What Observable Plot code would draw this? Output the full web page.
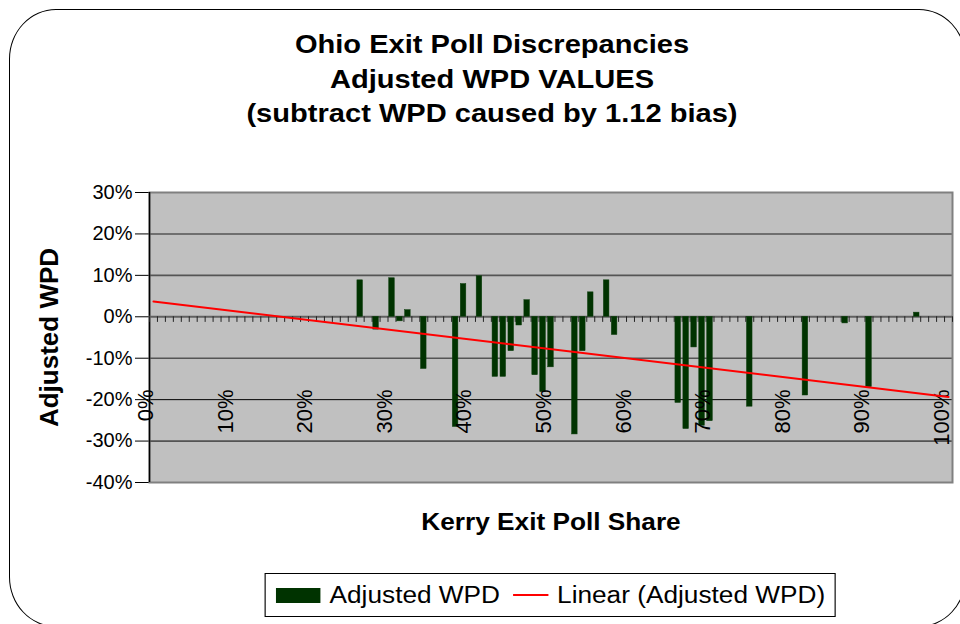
<!DOCTYPE html>
<html>
<head>
<meta charset="utf-8">
<script src="https://cdn.jsdelivr.net/npm/d3@7"></script>
<script src="https://cdn.jsdelivr.net/npm/@observablehq/plot@0.6"></script>
<style>
  html, body { margin: 0; padding: 0; background: #fff; }
  body { width: 960px; height: 624px; overflow: hidden; position: relative; font-family: "Liberation Sans", Arial, sans-serif; }
  #border { position: absolute; left: 9px; top: 9px; width: 957px; height: 618px; border: 1.5px solid #000; border-radius: 47px / 50px; box-sizing: border-box; }
  #title { position: absolute; left: 24px; top: 27px; width: 936px; text-align: center; font-weight: bold; font-size: 25.5px; line-height: 34.5px; color: #000; transform: scaleX(1.14); transform-origin: 468px 0; }
  #chart { position: absolute; left: 0; top: 0; }
  #xtitle { position: absolute; left: 551px; top: 511px; font-weight: bold; font-size: 23px; line-height: 23px; white-space: nowrap; transform: translateX(-50%) scaleX(1.14); }
  #legend { position: absolute; left: 550px; top: 573px; height: 44px; box-sizing: border-box; border: 1px solid #000; background: #fff; display: flex; align-items: center; padding: 0 8px 0 9px; white-space: nowrap; transform: translateX(-50%) scaleX(1.14); font-size: 23px; }
  #legend .sw { width: 39px; height: 15px; background: #003300; margin-right: 8px; }
  #legend .ln { width: 31px; height: 2px; background: #ff0000; margin: 0 8px 0 11px; }
</style>
</head>
<body>
<div id="border"></div>
<div id="chart"></div>
<div id="title">Ohio Exit Poll Discrepancies<br>Adjusted WPD VALUES<br>(subtract WPD caused by 1.12 bias)</div>
<div id="xtitle">Kerry Exit Poll Share</div>
<div id="legend"><div class="sw"></div><span>Adjusted WPD</span><div class="ln"></div><span>Linear (Adjusted WPD)</span></div>
<script>
// Kerry exit poll share (category, %) for each precinct bar
const shares = [26, 28, 30, 31, 32, 34, 38, 39, 41, 43, 44, 45, 46, 47, 48, 49, 50, 53, 54, 55, 57, 58, 66, 67, 68, 69, 70, 75, 82, 87, 90, 96];
// Adjusted WPD value (%) for each bar
const wpd = [8.8, -3.1, 9.3, -1.1, 1.6, -12.6, -26.6, 7.9, 9.8, -14.5, -14.5, -8.3, -2.1, 4.0, -14.1, -18.2, -12.2, -28.4, -8.3, 5.9, 8.8, -4.4, -20.8, -27.1, -7.4, -26.3, -25.2, -21.7, -19.0, -1.6, -17.0, 1.0];
// Category axis: 0% .. 100% in 1% steps, labelled every 10%
const categories = d3.range(0, 101);
const xTickLabels = [0, 10, 20, 30, 40, 50, 60, 70, 80, 90, 100];
const yTicks = [30, 20, 10, 0, -10, -20, -30, -40];
const gridUpper = [20, 10, -10];
const gridLower = [-20, -30];

const data = shares.map((s, i) => ({share: s, wpd: wpd[i]}));

// least-squares linear trendline (Excel "Linear" trendline) from the data
const mx = d3.mean(shares), my = d3.mean(wpd);
const slope = d3.sum(shares, (x, i) => (x - mx) * (wpd[i] - my)) / d3.sum(shares, x => (x - mx) ** 2);
const intercept = my - slope * mx;
const xFirst = categories[0], xLast = categories[categories.length - 1];
const trend = [xFirst, xLast].map(x => ({x, y: intercept + slope * x}));
const boundaries = categories.map(c => c - 0.5).concat([xLast + 0.5]);

const chart = Plot.plot({
  width: 960,
  height: 624,
  marginLeft: 149,
  marginRight: 8,
  marginTop: 192,
  marginBottom: 142,
  style: {fontFamily: "'Liberation Sans', Arial, sans-serif", fontSize: "20px", background: "transparent", color: "#000", overflow: "visible"},
  x: {domain: [xFirst - 0.5, xLast + 0.5], axis: null},
  y: {domain: [-40, 30], ticks: yTicks, tickFormat: d => d + "%", tickSize: 14, tickPadding: 3, label: null},
  marks: [
    Plot.frame({fill: "#C0C0C0", stroke: null}),
    Plot.ruleY(gridUpper, {stroke: "#555555", strokeWidth: 1.6}),
    Plot.ruleY(gridLower, {stroke: "#000", strokeWidth: 1}),
    Plot.frame({stroke: "#808080", strokeWidth: 2}),
    Plot.ruleX([xFirst - 0.5], {stroke: "#000", strokeWidth: 1.5}),
    Plot.ruleY([0], {stroke: "#606060", strokeWidth: 2}),
    Plot.ruleX(boundaries, {y1: 0, y2: -1.35, stroke: "#222", strokeWidth: 1}),
    Plot.rectY(data, {x1: d => d.share - 0.5, x2: d => d.share + 0.5, y1: 0, y2: "wpd", insetLeft: 1.2, insetRight: 1.2, fill: "#003300", stroke: "#0b3d0b", strokeWidth: 0.5}),
    Plot.text(xTickLabels, {x: d => d, text: d => d + "%", frameAnchor: "bottom", dy: -93, rotate: -90, textAnchor: "end", fontSize: 22, fill: "#000"}),
    Plot.line(trend, {x: "x", y: "y", stroke: "#ff0000", strokeWidth: 2}),
    Plot.text(["Adjusted WPD"], {text: d => d, frameAnchor: "left", dx: -92, rotate: -90, textAnchor: "middle", lineAnchor: "bottom", fontSize: 26, fontWeight: "bold", fill: "#000"})
  ]
});
document.getElementById("chart").appendChild(chart);
</script>
</body>
</html>
